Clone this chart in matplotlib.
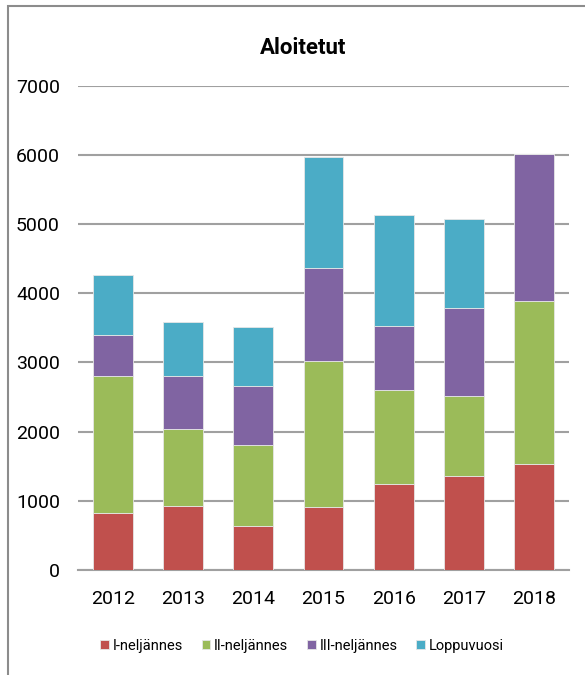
import numpy as np
import matplotlib
matplotlib.use("Agg")
from matplotlib import pyplot as plt
from matplotlib.patches import Rectangle

plt.rcParams['font.family'] = ['Roboto', 'DejaVu Sans']

vuodet = ["2012", "2013", "2014", "2015", "2016", "2017", "2018"]
q1 = [826, 928, 633, 913, 1246, 1362, 1536]
q2 = [1971, 1111, 1174, 2101, 1348, 1155, 2354]
q3 = [594, 758, 851, 1354, 934, 1266, 2120]
loppu = [876, 789, 849, 1603, 1608, 1295, 0]

sarjat = [q1, q2, q3, loppu]
nimet = ["I-neljännes", "II-neljännes", "III-neljännes", "Loppuvuosi"]
varit = ["#C0504D", "#9BBB59", "#8064A2", "#4BACC6"]

W, H = 585, 675
fig = plt.figure(figsize=(W / 100, H / 100), dpi=100)
ax = fig.add_axes([78 / W, 1 - 569.7 / H, (569 - 78) / W, (569.7 - 86) / H])

x = np.arange(len(vuodet))
pohja = np.zeros(len(vuodet))
for arvot, nimi, vari in zip(sarjat, nimet, varit):
    ax.bar(x, arvot, 0.57, bottom=pohja, color=vari, label=nimi,
           edgecolor="#E6E6E6", linewidth=0.6, zorder=3)
    pohja = pohja + np.array(arvot)

ax.set_xlim(-0.5, len(vuodet) - 0.5)
ax.set_ylim(0, 7000)
ax.set_yticks(range(0, 7001, 1000))
ax.set_xticks(x)
ax.set_xticklabels(vuodet)
ax.tick_params(axis="both", length=0, labelsize=14)
ax.tick_params(axis="y", pad=13)
ax.tick_params(axis="x", pad=14.5)
ax.yaxis.grid(True, color="#A0A0A0", linewidth=1.5, zorder=0)
for s in ["left", "right", "top"]:
    ax.spines[s].set_visible(False)
ax.spines["bottom"].set_color("#A0A0A0")
ax.spines["bottom"].set_linewidth(1.5)

fig.text(303.5 / W, 1 - 48 / H, "Aloitetut", ha="center", va="center",
         fontsize=16, fontweight="bold")

ax.legend(loc="center", bbox_to_anchor=(302 / W, 1 - 646 / H),
          bbox_transform=fig.transFigure, ncol=4, frameon=False,
          fontsize=10.5, handlelength=0.6, handleheight=0.6,
          handletextpad=0.25, columnspacing=1.3)

# kehys
fig.patches.append(Rectangle((7.5 / W, -0.1), 1.2, 1 - 5.5 / H + 0.1,
                             transform=fig.transFigure, fill=False,
                             edgecolor="#8C8C8C", linewidth=1.5))

fig.savefig("out.png", dpi=100)
